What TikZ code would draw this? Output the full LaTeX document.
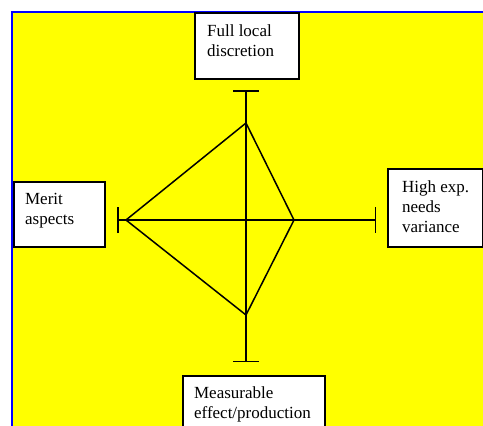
\documentclass[tikz,border=0pt]{standalone}
\usepackage{fontspec}
\setmainfont{Liberation Serif}
\usetikzlibrary{arrows.meta}

\definecolor{panelyellow}{RGB}{255,255,0}
\definecolor{panelblue}{RGB}{0,0,255}

% box with text set from its top-left corner
% #1 width, #2 height, #3 left pad, #4 first baseline depth, #5 text
\newcommand{\boxtext}[5]{%
  \parbox[c][#2][t]{#1}{\raggedright\leftskip=#3\relax
    \fontsize{17pt}{20pt}\selectfont\rule{0pt}{#4}#5}}

\tikzset{
  panel/.style={fill=panelyellow, draw=panelblue, line width=2.4pt},
  labelbox/.style={draw=black, fill=white, line width=2.2pt,
    rectangle, inner sep=0pt, anchor=north west},
  axis/.style={line width=1.5pt, {Bar[width=26pt,line width=1.5pt]}-{Bar[width=26pt,line width=1.5pt]}},
  kite/.style={line width=1.5pt, line join=miter}
}

\begin{document}
\begin{tikzpicture}[x=1pt, y=-1pt]
\useasboundingbox (0,0) rectangle (483,426);
\begin{scope}
\clip (0,0) rectangle (483,426);

% background panel
\draw[panel] (12,12) rectangle (500,450);

% label boxes
\node[labelbox] (full) at (194,12)
  {\boxtext{104pt}{66pt}{12pt}{23pt}{Full local\\discretion}};
\node[labelbox] (merit) at (13,181)
  {\boxtext{91pt}{65pt}{11pt}{22pt}{Merit\\aspects}};
\node[labelbox] (high) at (387,168)
  {\boxtext{95pt}{78pt}{14pt}{23pt}{High exp.\\needs\\variance}};
\node[labelbox] (meas) at (182,375)
  {\boxtext{142pt}{70pt}{11pt}{22pt}{Measurable\\effect/production}};

% axis end points
\coordinate (axtop) at (246,90);
\coordinate (axbot) at (246,362);
\coordinate (axleft) at (117,220);
\coordinate (axright) at (376,220);

% kite vertices
\coordinate (kt) at (246,123);
\coordinate (kr) at (294,220);
\coordinate (kb) at (246,315);
\coordinate (kl) at (126,220);

% axes
\draw[axis] (axtop) -- (axbot);
\draw[axis] (axleft) -- (axright);

% kite
\draw[kite] (kt) -- (kr) -- (kb) -- (kl) -- cycle;
\end{scope}
\end{tikzpicture}
\end{document}
